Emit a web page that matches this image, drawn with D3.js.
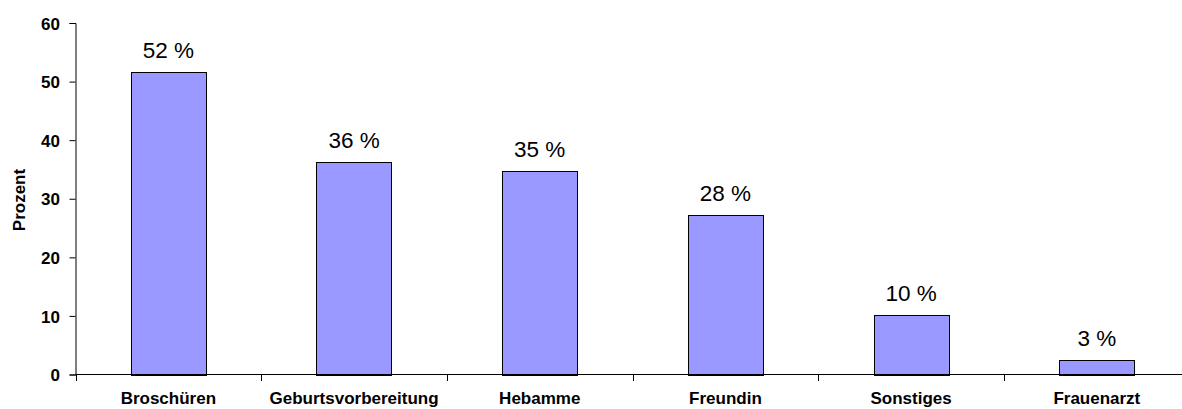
<!DOCTYPE html>
<html><head><meta charset="utf-8">
<script src="https://cdn.jsdelivr.net/npm/d3@7"></script>
<style>body{margin:0;background:#fff}svg{display:block}</style>
</head><body>
<svg id="c" width="1182" height="409"></svg>
<script>
const categories = ["Broschüren","Geburtsvorbereitung","Hebamme","Freundin","Sonstiges","Frauenarzt"];
const values = [51.6, 36.3, 34.8, 27.3, 10.2, 2.5];
const labels = ["52 %","36 %","35 %","28 %","10 %","3 %"];
const yTicks = [0,10,20,30,40,50,60];
const yTitle = "Prozent";

const FONT = "Liberation Sans, Arial, sans-serif";
const svg = d3.select("#c");
const x0 = 75.5, step = 185.7;
const x = d3.scaleBand().domain(categories).range([x0, x0 + step*categories.length]).paddingInner(0.595).paddingOuter(0.2975);
const y = d3.scaleLinear().domain([0,60]).range([374.5, 23]);

const g = svg.append("g");
// bars
g.selectAll("rect.bar").data(values).join("rect")
  .attr("x", (d,i)=>Math.round(x(categories[i]))+0.5)
  .attr("y", d=>Math.round(y(d))+0.5)
  .attr("width", Math.round(x.bandwidth()))
  .attr("height", d=>Math.round(y(0))-Math.round(y(d)))
  .attr("fill","#9999ff").attr("stroke","#000").attr("stroke-width",1);

// value labels
g.selectAll("text.val").data(values).join("text")
  .attr("x",(d,i)=>x(categories[i])+x.bandwidth()/2)
  .attr("y", d=>y(d)-14)
  .attr("text-anchor","middle")
  .attr("font-family",FONT)
  .attr("font-size",22.5).attr("fill","#000")
  .text((d,i)=>labels[i]);

// y axis
const yAxis = d3.axisLeft(y).tickValues(yTicks).tickSize(6).tickPadding(9.5).tickFormat(d3.format("d"));
const ya = svg.append("g").attr("transform","translate(75.5,0)").call(yAxis);
ya.select(".domain").attr("stroke","#000");
ya.selectAll(".tick line").attr("stroke","#000");
ya.selectAll(".tick text").attr("font-family",FONT)
  .attr("font-size",17).attr("font-weight","bold").attr("fill","#000").attr("dy","0.36em");

// x axis
const xAxisScale = d3.scalePoint().domain(d3.range(categories.length+1)).range([x0, x0+step*categories.length]);
svg.append("line").attr("x1",x0).attr("x2",1182).attr("y1",374.5).attr("y2",374.5).attr("stroke","#000");
svg.append("g").selectAll("line").data(d3.range(categories.length+1)).join("line")
  .attr("x1",d=>Math.round(xAxisScale(d))+0.5).attr("x2",d=>Math.round(xAxisScale(d))+0.5)
  .attr("y1",374.5).attr("y2",381).attr("stroke","#000");
svg.append("g").selectAll("text").data(categories).join("text")
  .attr("x",d=>x(d)+x.bandwidth()/2).attr("y",404)
  .attr("text-anchor","middle")
  .attr("font-family",FONT)
  .attr("font-size",17).attr("font-weight","bold").attr("fill","#000")
  .text(d=>d);

// y title
svg.append("text").attr("transform","translate(25,200) rotate(-90)")
  .attr("text-anchor","middle")
  .attr("font-family",FONT)
  .attr("font-size",17).attr("font-weight","bold").attr("fill","#000")
  .text(yTitle);
</script>
</body></html>
